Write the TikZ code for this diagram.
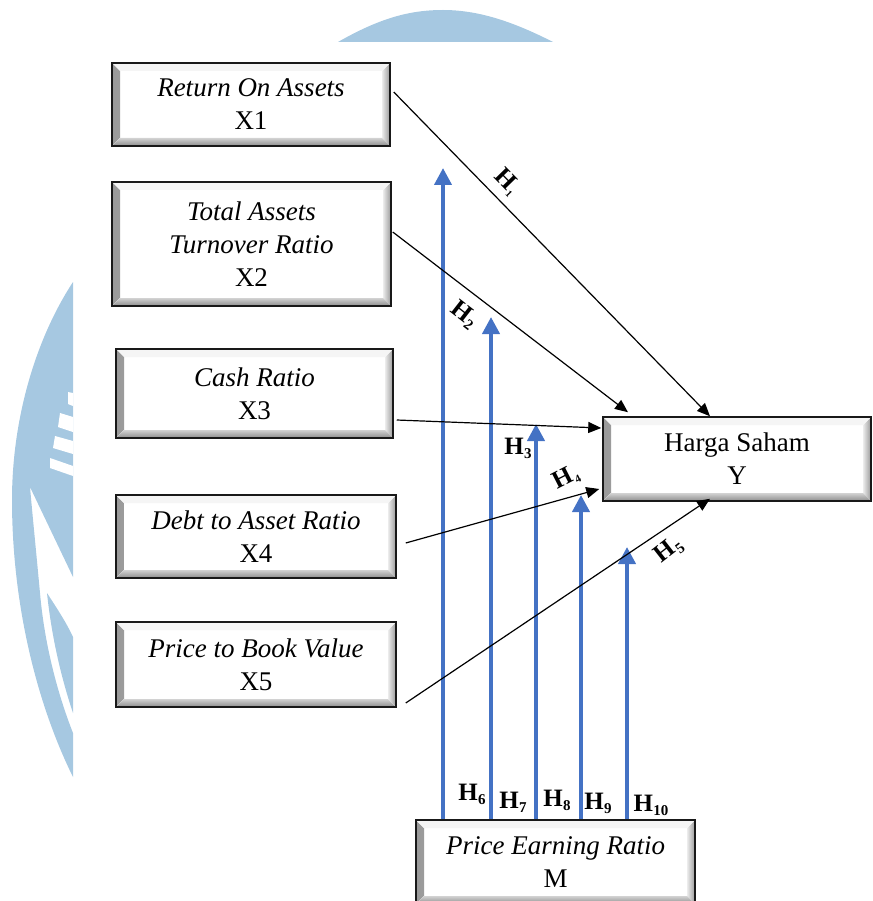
\documentclass[tikz,border=0pt]{standalone}
\usepackage{fontspec}
\setmainfont{Liberation Serif}
\usetikzlibrary{arrows.meta,calc}
\definecolor{wmblue}{RGB}{166,200,225}
\definecolor{pblue}{RGB}{68,114,196}
\newcommand{\hs}[2][15]{\kern0.5pt\raisebox{-4pt}{\fontsize{#1}{#1}\selectfont #2}}
\begin{document}
\begin{tikzpicture}[x=1pt,y=1pt,
  bevelbox/.style={rectangle, draw=black!90, line width=1.5pt, fill=white,
    align=center, inner sep=0pt, font=\fontsize{27}{33}\selectfont,
    path picture={
      \fill[left color=gray!80, right color=gray!10]
        (path picture bounding box.south west) -- (path picture bounding box.north west)
        -- ([shift={(8pt,-8pt)}]path picture bounding box.north west)
        -- ([shift={(8pt,8pt)}]path picture bounding box.south west) -- cycle;
      \fill[left color=gray!15, right color=gray!80]
        (path picture bounding box.south east) -- (path picture bounding box.north east)
        -- ([shift={(-8pt,-8pt)}]path picture bounding box.north east)
        -- ([shift={(-8pt,8pt)}]path picture bounding box.south east) -- cycle;
      \fill[gray!8]
        (path picture bounding box.north west) -- (path picture bounding box.north east)
        -- ([shift={(-8pt,-8pt)}]path picture bounding box.north east)
        -- ([shift={(8pt,-8pt)}]path picture bounding box.north west) -- cycle;
      \fill[top color=gray!35, bottom color=gray!90]
        (path picture bounding box.south west) -- (path picture bounding box.south east)
        -- ([shift={(-8pt,8pt)}]path picture bounding box.south east)
        -- ([shift={(8pt,8pt)}]path picture bounding box.south west) -- cycle;
    }},
  blk/.style={draw=black, line width=1.2pt, -{Triangle[length=13pt,width=11pt]}},
  blu/.style={draw=pblue, line width=4pt, -{Triangle[length=17pt,width=17pt]}},
  hlab/.style={font=\fontsize{25}{25}\selectfont\bfseries, inner sep=0pt},
  wm/.style={fill=wmblue}
]
\useasboundingbox (0,0) rectangle (872,-901);

% watermark
\fill[wm] (338,-42) .. controls (380,-18) and (410,-10) .. (443,-10)
  .. controls (476,-10) and (510,-20) .. (553,-42) -- cycle;
\fill[wm] (73,-282) .. controls (35,-340) and (12,-420) .. (12,-500)
  .. controls (12,-600) and (35,-700) .. (73,-777) -- (73,-733)
  .. controls (60,-700) and (45,-650) .. (40,-593)
  .. controls (36,-550) and (32,-510) .. (30,-487) -- (73,-577) -- cycle;
\fill[wm] (47,-593) .. controls (58,-610) and (66,-622) .. (73,-637) -- (73,-713)
  .. controls (62,-680) and (52,-640) .. (47,-593) -- cycle;
\fill[white] (68,-392) -- (73,-393) -- (73,-406) -- (68,-404) -- cycle;
\fill[white] (60,-413) -- (73,-417) -- (73,-432) -- (58,-427) -- cycle;
\fill[white] (55,-436) -- (73,-441) -- (73,-454) -- (53,-448) -- cycle;
\fill[white] (50,-458) -- (73,-466) -- (73,-476) -- (50,-468) -- cycle;

% boxes
\node[bevelbox, minimum width=278pt, minimum height=83pt] (X1) at (251,-104.5) {\textit{Return On Assets}\\X1};
\node[bevelbox, minimum width=279pt, minimum height=124pt] (X2) at (251.5,-244) {\textit{Total Assets}\\\textit{Turnover Ratio}\\X2};
\node[bevelbox, minimum width=277pt, minimum height=89pt] (X3) at (254.5,-393.5) {\textit{Cash Ratio}\\X3};
\node[bevelbox, minimum width=280pt, minimum height=83pt] (X4) at (256,-536.5) {\textit{Debt to Asset Ratio}\\X4};
\node[bevelbox, minimum width=280pt, minimum height=85pt] (X5) at (256,-664.5) {\textit{Price to Book Value}\\X5};
\node[bevelbox, minimum width=268pt, minimum height=84pt] (Y) at (737,-459) {Harga Saham\\Y};
\node[bevelbox, minimum width=279pt, minimum height=84pt] (M) at (555.5,-862) {\textit{Price Earning Ratio}\\M};

% moderating arrows
\coordinate (t6) at (443,-168);
\coordinate (t7) at (491,-317);
\coordinate (t8) at (536,-424);
\coordinate (t9) at (581,-495);
\coordinate (t10) at (627,-547);
\draw[blu] (t6 |- M.north) -- (t6);
\draw[blu] (t7 |- M.north) -- (t7);
\draw[blu] (t8 |- M.north) -- (t8);
\draw[blu] (t9 |- M.north) -- (t9);
\draw[blu] (t10 |- M.north) -- (t10);

% direct arrows
\draw[blk] ([xshift=3pt,yshift=12.5pt]X1.east) -- ([xshift=-27pt]Y.north);
\draw[blk] ([xshift=1pt,yshift=12pt]X2.east) -- ([xshift=-109pt,yshift=4pt]Y.north);
\draw[blk] ([xshift=3pt,yshift=-26.5pt]X3.east) -- ([xshift=-1pt,yshift=31pt]Y.west);
\draw[blk] ([xshift=9pt,yshift=-6.5pt]X4.east) -- ([xshift=-3pt,yshift=-30pt]Y.west);
\draw[blk] ([xshift=9pt,yshift=-38.5pt]X5.east) -- ([xshift=-27pt,yshift=3pt]Y.south);

% labels
\node[hlab, rotate=-45.7] (h1) at (507,-182) {H\hs[10]{1}};
\node[hlab, rotate=-38] (h2) at (464,-315) {H\hs{2}};
\node[hlab] (h3) at (518,-448) {H\hs{3}};
\node[hlab, rotate=27] (h4) at (566,-478) {H\hs[11]{4}};
\node[hlab, rotate=38] (h5) at (669,-550) {H\hs{5}};
\node[hlab] (h6) at (472,-794) {H\hs{6}};
\node[hlab] (h7) at (513,-802) {H\hs{7}};
\node[hlab] (h8) at (557,-800) {H\hs{8}};
\node[hlab] (h9) at (598,-803) {H\hs{9}};
\node[hlab] (h10) at (651,-805) {H\hs{10}};
\end{tikzpicture}
\end{document}
